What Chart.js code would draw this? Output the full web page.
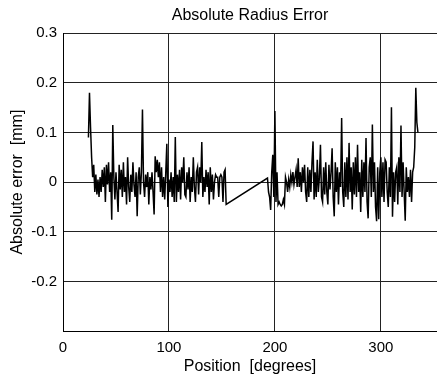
<!DOCTYPE html>
<html>
<head>
<meta charset="utf-8">
<title>Absolute Radius Error</title>
<script src="https://cdn.jsdelivr.net/npm/chart.js@4.4.1/dist/chart.umd.min.js"></script>
<style>
  html, body { margin: 0; padding: 0; background: #fff; }
  canvas { display: block; }
</style>
</head>
<body>
<canvas id="errChart" width="437" height="376"></canvas>
<script>
// positions in degrees, one sample per degree, two measured runs with a gap between
var startA = 24;
var errorsA = [
  0.09, 0.18, 0.11, 0.05, 0.01, 0.035, -0.02, 0.015, -0.025, 0.005,
  -0.03, 0.01, -0.02, 0.025, -0.01, 0.03, -0.04, 0.035, -0.005, 0.04,
  -0.02, 0.02, -0.076, 0.115, 0.01, -0.035, 0.02, -0.02, -0.06, 0.035,
  -0.015, 0.025, -0.03, 0.04, -0.02, 0.01, -0.045, 0.05, -0.01, -0.04,
  0.015, -0.02, 0.04, -0.005, -0.03, 0.02, -0.069, 0.01, 0.03, -0.025,
  0.02, 0.146, 0.0, -0.03, 0.015, -0.01, 0.02, -0.045, 0.01, -0.015,
  0.02, -0.02, -0.065, 0.052, 0.02, 0.045, 0.01, 0.04, -0.02, 0.03,
  -0.03, 0.01, -0.035, 0.02, 0.077, -0.05, 0.005, -0.02, 0.02, -0.03,
  0.01, -0.04, 0.091, -0.04, 0.015, -0.02, 0.025, -0.035, 0.03, 0.0,
  0.05, -0.025, -0.03, 0.02, -0.015, 0.03, -0.04, 0.01, -0.02, 0.05,
  -0.01, -0.04, 0.02, 0.03, -0.025, 0.03, 0.0, 0.081, -0.03, 0.01,
  -0.02, 0.025, -0.01, 0.02, -0.045, 0.03, -0.02, 0.015, -0.035, 0.0,
  0.015, 0.01, 0.01, -0.03, 0.01, 0.015, 0.01, -0.04, 0.02, 0.025, -0.045
];
var startB = 193;
var errorsB = [
  0.008, -0.02, -0.03, -0.056, 0.02, 0.055, -0.03, 0.143, -0.04, 0.02,
  -0.045, -0.04, -0.045, -0.048, -0.045, -0.035, -0.045, 0.01, 0.0, -0.02,
  0.005, -0.01, 0.015, 0.0, 0.02, -0.005, 0.01, 0.025, -0.01, 0.048,
  -0.01, 0.02, -0.02, 0.03, 0.0, 0.035, -0.02, -0.04, 0.03, -0.03,
  0.025, -0.02, 0.04, 0.082, -0.035, 0.02, -0.03, 0.045, -0.02, 0.01,
  0.075, -0.03, -0.04, 0.03, -0.025, 0.04, -0.02, -0.045, 0.035, -0.015,
  0.02, 0.068, -0.03, -0.069, 0.04, -0.02, 0.03, -0.045, 0.02, -0.01,
  0.129, -0.02, -0.05, 0.04, -0.03, 0.05, -0.035, 0.079, -0.02, 0.03,
  -0.055, 0.04, -0.025, 0.05, -0.03, 0.075, -0.02, 0.02, -0.06, 0.045,
  -0.03, 0.04, -0.02, 0.089, -0.04, -0.073, 0.03, 0.05, -0.03, 0.116,
  -0.02, 0.04, -0.05, -0.079, 0.03, -0.075, 0.02, 0.05, -0.03, 0.04,
  -0.04, 0.045, 0.04, -0.02, -0.05, 0.03, -0.03, 0.151, -0.07, 0.02,
  -0.04, 0.02, 0.03, -0.045, 0.05, -0.02, 0.114, -0.03, 0.04, -0.02,
  -0.078, 0.03, -0.02, 0.01, -0.03, 0.025, -0.04, 0.02, 0.03, 0.07,
  0.19, 0.12, 0.1
];
var xTicks = [0, 100, 200, 300];
var yTicks = [-0.3, -0.2, -0.1, 0, 0.1, 0.2, 0.3];

var points = [];
errorsA.forEach(function(v, i) { points.push({ x: startA + i, y: v }); });
errorsB.forEach(function(v, i) { points.push({ x: startB + i, y: v }); });

var font = "Arial, 'Liberation Sans', sans-serif";
Chart.defaults.font.family = font;
Chart.defaults.color = '#000';

var ctx = document.getElementById('errChart').getContext('2d');
var chart = new Chart(ctx, {
  type: 'line',
  data: {
    datasets: [{
      data: points,
      borderColor: '#000',
      borderWidth: 1.5,
      pointRadius: 0,
      tension: 0,
      fill: false
    }]
  },
  options: {
    responsive: false,
    animation: false,
    devicePixelRatio: 1,
    layout: { padding: { left: 0, right: 0, top: 0, bottom: 0 } },
    plugins: {
      legend: { display: false },
      tooltip: { enabled: false },
      title: {
        display: true,
        text: 'Absolute Radius Error',
        fullSize: false,
        font: { size: 16, weight: 'normal' },
        padding: { top: 6, bottom: 8 }
      }
    },
    scales: {
      x: {
        type: 'linear',
        min: 0,
        max: 353,
        afterBuildTicks: function(s) { s.ticks = xTicks.map(function(v) { return { value: v }; }); },
        afterFit: function(s) { s.height = 45; },
        ticks: { font: { size: 15 }, padding: 8, maxRotation: 0 },
        grid: { color: '#222', drawTicks: false },
        border: { color: '#000' },
        title: { display: true, text: 'Position  [degrees]', font: { size: 16 }, padding: { top: 0, bottom: 0 } }
      },
      y: {
        min: -0.3,
        max: 0.3,
        afterBuildTicks: function(s) { s.ticks = yTicks.map(function(v) { return { value: v }; }); },
        afterFit: function(s) { s.width = 63; },
        ticks: {
          font: { size: 15 },
          padding: 6,
          callback: function(v) {
            if (v < -0.25) return '';
            if (Math.abs(v) < 1e-9) return '0';
            return v.toFixed(1);
          }
        },
        grid: { color: '#222', drawTicks: false },
        border: { color: '#000' },
        title: { display: true, text: 'Absolute error  [mm]', font: { size: 16 }, padding: { top: 8, bottom: 0 } }
      }
    }
  }
});
</script>
</body>
</html>
